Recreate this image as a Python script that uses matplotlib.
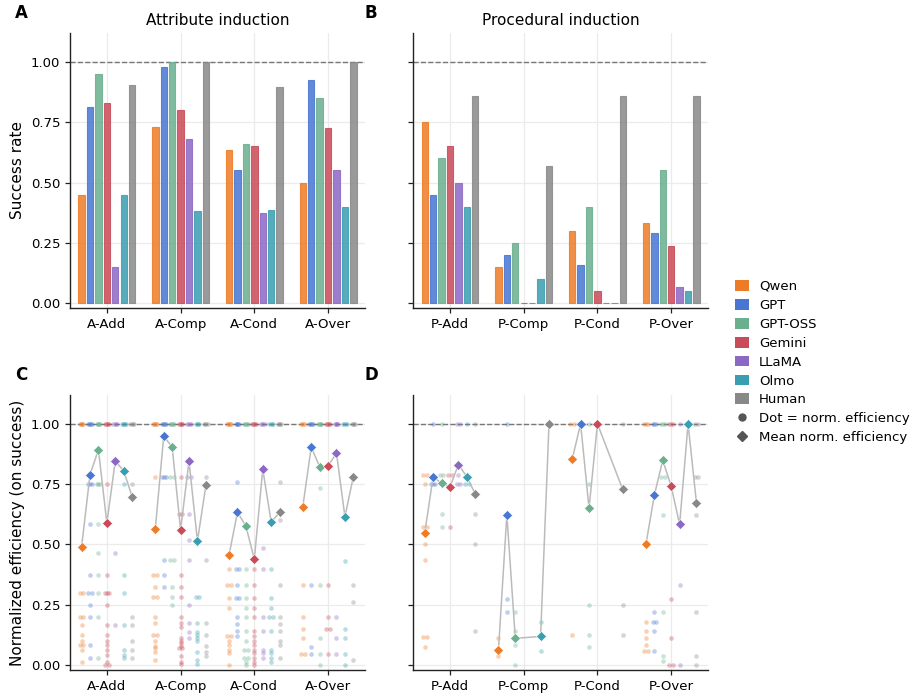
import numpy as np
import matplotlib
matplotlib.use("Agg")
import matplotlib.pyplot as plt
from matplotlib.patches import Patch
from matplotlib.lines import Line2D

models = ["Qwen", "GPT", "GPT-OSS", "Gemini", "LLaMA", "Olmo", "Human"]
colors = ["#EE7B25", "#4776D3", "#6AAF8E", "#C94A58", "#8C68C5", "#3A9EB1", "#888888"]

attr_tasks = ["A-Add", "A-Comp", "A-Cond", "A-Over"]
proc_tasks = ["P-Add", "P-Comp", "P-Cond", "P-Over"]

# success rate, one list per task, in model order
succ_a_add = [0.45, 0.815, 0.95, 0.83, 0.15, 0.45, 0.905]
succ_a_comp = [0.73, 0.98, 1.00, 0.80, 0.68, 0.38, 1.00]
succ_a_cond = [0.635, 0.55, 0.66, 0.65, 0.375, 0.385, 0.895]
succ_a_over = [0.50, 0.925, 0.85, 0.725, 0.55, 0.40, 1.00]
succ_p_add = [0.75, 0.45, 0.60, 0.65, 0.50, 0.40, 0.857]
succ_p_comp = [0.15, 0.20, 0.25, 0.0, 0.0, 0.10, 0.57]
succ_p_cond = [0.30, 0.157, 0.40, 0.05, 0.0, 0.0, 0.857]
succ_p_over = [0.333, 0.29, 0.55, 0.236, 0.065, 0.05, 0.857]

# mean normalized efficiency (nan = no successes)
nan = np.nan
mean_a_add = [0.489, 0.789, 0.893, 0.589, 0.846, 0.805, 0.698]
mean_a_comp = [0.566, 0.949, 0.904, 0.561, 0.845, 0.514, 0.745]
mean_a_cond = [0.456, 0.634, 0.576, 0.439, 0.812, 0.593, 0.633]
mean_a_over = [0.656, 0.903, 0.823, 0.825, 0.879, 0.615, 0.781]
mean_p_add = [0.547, 0.781, 0.753, 0.738, 0.831, 0.781, 0.709]
mean_p_comp = [0.062, 0.623, 0.111, nan, nan, 0.119, 1.0]
mean_p_cond = [0.853, 1.0, 0.65, 1.0, nan, nan, 0.728]
mean_p_over = [0.50, 0.705, 0.849, 0.741, 0.583, 1.0, 0.672]

# per-run normalized efficiency (dots)
eff_a_add = {
    "Qwen": [1, 1, 1, 1, 1, 0.3, 0.3, 0.2, 0.2, 0.167, 0.125, 0.1, 0.083, 0.083, 0.0625, 0.014],
    "GPT": [1, 1, 1, 1, 1, 0.75, 0.75, 0.75, 0.586, 0.375, 0.3, 0.3, 0.25, 0.2, 0.083, 0.028],
    "GPT-OSS": [1, 1, 1, 1, 1, 0.75, 0.75, 0.75, 0.586, 0.465, 0.375, 0.3, 0.2, 0.028],
    "Gemini": [1, 1, 1, 1, 1, 0.75, 0.375, 0.3, 0.3, 0.3, 0.25, 0.167, 0.125, 0.1, 0.083, 0.0625, 0.044, 0.014, 0.0, 0.0],
    "LLaMA": [1, 1, 1, 1, 0.465, 0.167],
    "Olmo": [1, 1, 1, 1, 1, 0.75, 0.375, 0.3, 0.167, 0.0625, 0.044, 0.028],
    "Human": [1, 1, 1, 1, 0.75, 0.2, 0.167, 0.1, 0.0625, 0.028],
}
eff_a_comp = {
    "Qwen": [1, 1, 1, 1, 1, 0.778, 0.375, 0.375, 0.324, 0.283, 0.283, 0.2, 0.175, 0.125, 0.125, 0.1, 0.08, 0.07, 0.053, 0.021],
    "GPT": [1, 1, 1, 1, 1, 0.778, 0.778, 0.778, 0.4375, 0.375, 0.324],
    "GPT-OSS": [1, 1, 1, 1, 1, 0.778, 0.778, 0.4375, 0.4375, 0.324, 0.283, 0.25],
    "Gemini": [1, 1, 1, 1, 1, 0.778, 0.628, 0.628, 0.375, 0.324, 0.283, 0.2, 0.175, 0.156, 0.111, 0.1, 0.09, 0.08, 0.07, 0.07, 0.039, 0.014, 0.003],
    "LLaMA": [1, 1, 1, 1, 0.778, 0.778, 0.628, 0.518, 0.4375, 0.25, 0.175, 0.139, 0.111],
    "Olmo": [1, 1, 1, 1, 0.283, 0.283, 0.175, 0.139, 0.125, 0.111, 0.1, 0.053, 0.021, 0.003],
    "Human": [1, 1, 1, 1, 0.778, 0.4375, 0.175, 0.125, 0.08, 0.053, 0.039],
}
eff_a_cond = {
    "Qwen": [1, 1, 1, 1, 1, 0.4, 0.333, 0.333, 0.28, 0.236, 0.122, 0.122, 0.1, 0.083, 0.0625, 0.049, 0.0],
    "GPT": [1, 1, 1, 1, 1, 0.761, 0.4, 0.4, 0.333, 0.28, 0.28, 0.2, 0.17, 0.142, 0.122],
    "GPT-OSS": [1, 1, 1, 1, 1, 0.4, 0.333, 0.28, 0.236, 0.2, 0.142, 0.1, 0.0625, 0.0625, 0.028, 0.028, 0.014, 0.0],
    "Gemini": [1, 1, 1, 1, 1, 0.4, 0.333, 0.28, 0.236, 0.2, 0.142, 0.122, 0.1, 0.083, 0.0625, 0.049, 0.028, 0.014, 0.0],
    "LLaMA": [1, 1, 1, 1, 0.486, 0.4, 0.2, 0.142, 0.0625, 0.049, 0.028],
    "Olmo": [1, 1, 1, 1, 0.4, 0.28, 0.236, 0.2, 0.2, 0.142, 0.0625, 0.049, 0.028, 0.014],
    "Human": [1, 1, 1, 1, 0.761, 0.6, 0.333, 0.2, 0.17, 0.142, 0.1, 0.083, 0.028],
}
eff_a_over = {
    "Qwen": [1, 1, 1, 1, 0.333, 0.2, 0.15, 0.111, 0.047, 0.047],
    "GPT": [1, 1, 1, 1, 1, 0.333, 0.076, 0.047],
    "GPT-OSS": [1, 1, 1, 1, 1, 0.736, 0.333, 0.111, 0.047, 0.0],
    "Gemini": [1, 1, 1, 1, 1, 0.333, 0.2, 0.15, 0.15, 0.047],
    "LLaMA": [1, 1, 1, 1, 1, 0.2, 0.111, 0.047],
    "Olmo": [1, 1, 1, 1, 0.43, 0.15, 0.111, 0.047, 0.0],
    "Human": [1, 1, 1, 1, 0.333, 0.26, 0.021],
}
eff_p_add = {
    "Qwen": [0.7875, 0.7875, 0.75, 0.572, 0.572, 0.5, 0.4375, 0.118, 0.118, 0.076],
    "GPT": [1, 0.75, 0.75, 0.75],
    "GPT-OSS": [1, 0.7875, 0.7875, 0.628, 0.572],
    "Gemini": [0.7875, 0.7875, 0.572],
    "LLaMA": [1, 1, 0.7875, 0.75, 0.75],
    "Olmo": [1, 0.75, 0.75],
    "Human": [1, 0.628, 0.5, 0.142],
}
eff_p_comp = {
    "Qwen": [0.111, 0.036],
    "GPT": [1, 0.274, 0.222],
    "GPT-OSS": [0.222, 0.142, 0.083, 0.0],
    "Gemini": [],
    "LLaMA": [],
    "Olmo": [0.179, 0.058],
    "Human": [1, 1, 1],
}
eff_p_cond = {
    "Qwen": [1, 1, 0.125],
    "GPT": [1, 1, 1],
    "GPT-OSS": [1, 0.75, 0.25, 0.125, 0.076],
    "Gemini": [1, 1],
    "LLaMA": [],
    "Olmo": [],
    "Human": [1, 0.25, 0.125],
}
eff_p_over = {
    "Qwen": [1, 1, 1, 0.179, 0.143, 0.111, 0.083, 0.058, 0.058],
    "GPT": [1, 1, 1, 0.222, 0.179, 0.179, 0.143, 0.058],
    "GPT-OSS": [1, 1, 1, 0.779, 0.779, 0.621, 0.222, 0.0375, 0.018],
    "Gemini": [1, 1, 1, 0.274, 0.111, 0.0, 0.0],
    "LLaMA": [1, 0.333, 0.0],
    "Olmo": [1, 1],
    "Human": [1, 1, 0.779, 0.779, 0.621, 0.222, 0.0375, 0.0],
}

n = len(models)
slot = 0.8 / n
offsets = (np.arange(n) - (n - 1) / 2) * slot


def style_axes(ax, tasks, show_ylabels, ylabel=None):
    ax.set_xlim(-0.5, 3.5)
    ax.set_ylim(-0.02, 1.12)
    ax.set_yticks([0, 0.25, 0.5, 0.75, 1.0])
    ax.set_yticklabels(["0.00", "0.25", "0.50", "0.75", "1.00"] if show_ylabels else [])
    ax.set_xticks(range(len(tasks)))
    ax.set_xticklabels(tasks)
    ax.grid(True, color="#ebebeb", linewidth=0.9)
    ax.set_axisbelow(True)
    for s in ["top", "right"]:
        ax.spines[s].set_visible(False)
    for s in ["left", "bottom"]:
        ax.spines[s].set_color("#222222")
        ax.spines[s].set_linewidth(1.0)
    ax.tick_params(labelsize=9.5, length=3.5, width=0.9, color="#222222")
    ax.axhline(1.0, color="#777777", linestyle="--", linewidth=1.0, zorder=1)
    if ylabel:
        ax.set_ylabel(ylabel, fontsize=11)


def draw_bars(ax, succ_lists):
    for t, vals in enumerate(succ_lists):
        for m in range(n):
            ax.bar(t + offsets[m], vals[m], width=slot * 0.76, color=colors[m],
                   edgecolor=colors[m], linewidth=0.8, alpha=0.85, zorder=2)


def draw_eff(ax, eff_dicts, mean_lists):
    for t, (eff, means) in enumerate(zip(eff_dicts, mean_lists)):
        for m, name in enumerate(models):
            vals = eff[name]
            x0 = t + offsets[m]
            seen = {}
            for v in vals:
                seen[v] = seen.get(v, 0) + 1
            for v, k in seen.items():
                xs = x0 + (np.linspace(-0.025, 0.025, k) if k > 1 else np.array([0.0]))
                ax.scatter(xs, [v] * k, s=11, color=colors[m], alpha=0.35,
                           linewidths=0, zorder=3)
        xs = np.array([t + o for o in offsets])
        ms = np.array(means, dtype=float)
        ok = ~np.isnan(ms)
        ax.plot(xs[ok], ms[ok], color="#bbbbbb", linewidth=1.1, zorder=4)
        for m in range(n):
            if ok[m]:
                ax.plot(xs[m], ms[m], marker="D", markersize=5, color=colors[m],
                        markeredgecolor="white", markeredgewidth=0.4, zorder=5)


fig = plt.figure(figsize=(9.16, 7), dpi=100)
axA = fig.add_axes([0.0764, 0.56, 0.322, 0.393])
axB = fig.add_axes([0.451, 0.56, 0.322, 0.393])
axC = fig.add_axes([0.0764, 0.0429, 0.322, 0.393])
axD = fig.add_axes([0.451, 0.0429, 0.322, 0.393])

style_axes(axA, attr_tasks, True, "Success rate")
style_axes(axB, proc_tasks, False)
style_axes(axC, attr_tasks, True, "Normalized efficiency (on success)")
style_axes(axD, proc_tasks, False)

draw_bars(axA, [succ_a_add, succ_a_comp, succ_a_cond, succ_a_over])
draw_bars(axB, [succ_p_add, succ_p_comp, succ_p_cond, succ_p_over])
draw_eff(axC, [eff_a_add, eff_a_comp, eff_a_cond, eff_a_over],
         [mean_a_add, mean_a_comp, mean_a_cond, mean_a_over])
draw_eff(axD, [eff_p_add, eff_p_comp, eff_p_cond, eff_p_over],
         [mean_p_add, mean_p_comp, mean_p_cond, mean_p_over])

axA.set_title("Attribute induction", fontsize=11, pad=6)
axB.set_title("Procedural induction", fontsize=11, pad=6)

for label, x, y in [("A", 0.016, 0.982), ("B", 0.398, 0.982), ("C", 0.016, 0.465), ("D", 0.398, 0.465)]:
    fig.text(x, y, label, fontsize=12, fontweight="bold", va="center", ha="left")

handles = [Patch(facecolor=c, label=mname) for c, mname in zip(colors, models)]
handles.append(Line2D([], [], marker="o", linestyle="none", color="#555555",
                      markersize=5, label="Dot = norm. efficiency"))
handles.append(Line2D([], [], marker="D", linestyle="none", color="#555555",
                      markersize=5, label="Mean norm. efficiency"))
fig.legend(handles=handles, loc="upper left", bbox_to_anchor=(0.797, 0.608),
           frameon=False, fontsize=9.5, handlelength=1.0, handleheight=0.9,
           handletextpad=0.8, labelspacing=0.45, borderaxespad=0)

fig.savefig("out.png", dpi=100)
